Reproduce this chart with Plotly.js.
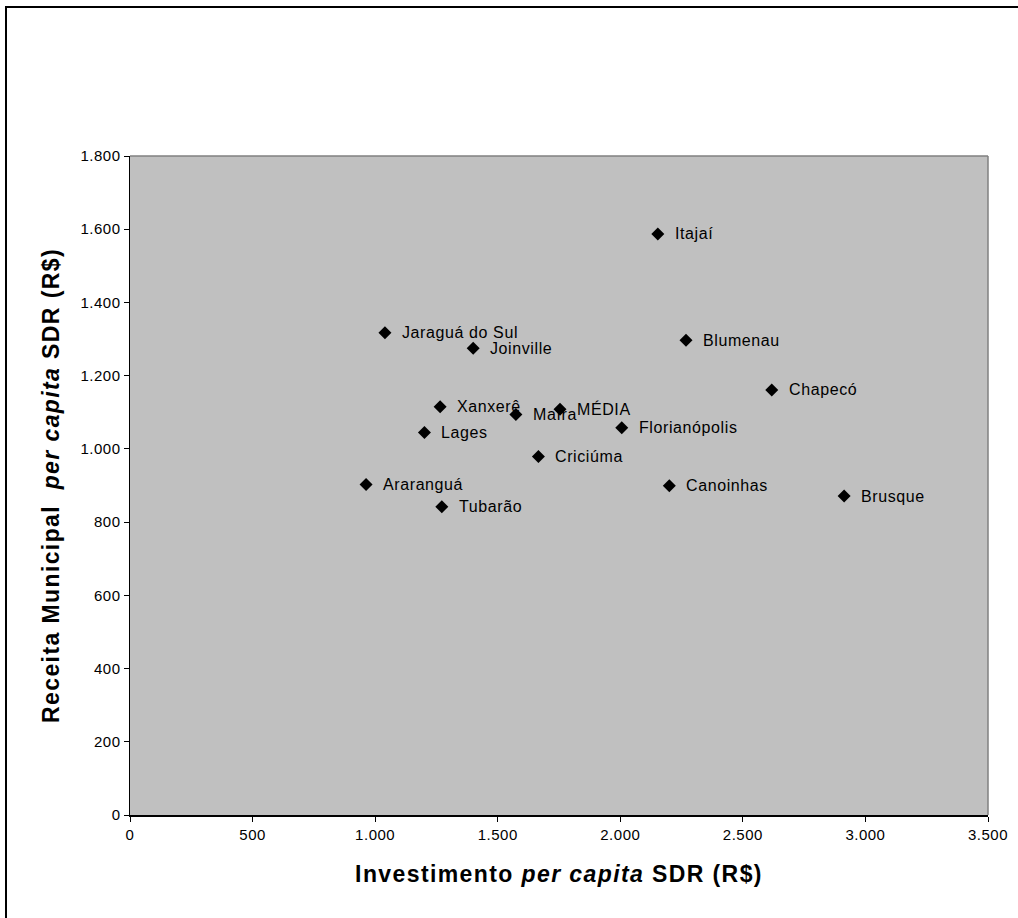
<!DOCTYPE html>
<html>
<head>
<meta charset="utf-8">
<script src="https://cdn.plot.ly/plotly-3.0.1.min.js"></script>
<style>
  html, body { margin: 0; padding: 0; background: #fff; }
  #wrap { position: relative; width: 1018px; height: 918px; overflow: hidden; }
  #frame { position: absolute; left: 5px; top: 6px; width: 1100px; height: 1000px;
           border-left: 2px solid #000; border-top: 2px solid #000; pointer-events: none; z-index: 5; }
  #chart { position: absolute; left: 0; top: 0; width: 1018px; height: 918px; }
  .annotation-text { letter-spacing: 0.6px; }
  .xtick text, .ytick text { letter-spacing: 0.5px; }
  .xtitle, .ytitle { letter-spacing: 1.4px; }
</style>
</head>
<body>
<div id="wrap">
  <div id="chart"></div>
  <div id="frame"></div>
</div>
<script>
// SDR names, investment per capita (x) and municipal revenue per capita (y), in R$
const regions = ["Itajaí", "Jaraguá do Sul", "Joinville", "Blumenau", "Chapecó",
                 "Xanxerê", "Mafra", "MÉDIA", "Lages", "Florianópolis",
                 "Criciúma", "Araranguá", "Tubarão", "Canoinhas", "Brusque"];
const investimento = [2153, 1040, 1400, 2268, 2618,
                      1265, 1574, 1754, 1201, 2006,
                      1666, 963, 1272, 2200, 2913];
const receita = [1587, 1317, 1275, 1297, 1161,
                 1115, 1094, 1108, 1045, 1058,
                 979, 903, 842, 899, 871];

const xTicks = [0, 500, 1000, 1500, 2000, 2500, 3000, 3500];
const yTicks = [0, 200, 400, 600, 800, 1000, 1200, 1400, 1600, 1800];

const FONT = "Liberation Sans, Arial, sans-serif";

const trace = {
  type: "scatter",
  mode: "markers",
  x: investimento,
  y: receita,
  marker: { symbol: "diamond", size: 10, color: "#000" },
  hoverinfo: "skip",
  cliponaxis: false
};

// point labels sit just right of each marker
const labels = regions.map((name, i) => ({
  x: investimento[i], y: receita[i], xref: "x", yref: "y",
  text: name, showarrow: false, xanchor: "left", yanchor: "middle",
  xshift: 15, font: { family: FONT, size: 16, color: "#000" }
}));

const layout = {
  width: 1018, height: 918,
  margin: { l: 130, r: 30, t: 156, b: 103 },
  paper_bgcolor: "rgba(0,0,0,0)",
  plot_bgcolor: "#c0c0c0",
  separators: ",.",
  showlegend: false,
  font: { family: FONT, color: "#000" },
  xaxis: {
    range: [0, 3500], tickvals: xTicks, separatethousands: true,
    showgrid: false, zeroline: false,
    showline: true, linecolor: "#000", linewidth: 1.5,
    ticks: "outside", ticklen: 5, tickcolor: "#000",
    tickfont: { family: FONT, size: 15, color: "#000" },
    title: { text: "Investimento <i>per capita</i> SDR (R$)", standoff: 24,
             font: { family: FONT, size: 23, color: "#000", weight: "bold" } },
    automargin: false
  },
  yaxis: {
    range: [0, 1800], tickvals: yTicks, separatethousands: true,
    showgrid: false, zeroline: false,
    showline: true, linecolor: "#000", linewidth: 1.5,
    ticks: "outside", ticklen: 5, tickcolor: "#000",
    tickfont: { family: FONT, size: 15, color: "#000" },
    title: { text: "Receita Municipal &nbsp;<i>per capita</i> SDR (R$)", standoff: 14,
             font: { family: FONT, size: 23, color: "#000", weight: "bold" } },
    automargin: false
  },
  shapes: [
    { type: "line", xref: "paper", yref: "paper", x0: 0, x1: 1, y0: 1, y1: 1,
      line: { color: "#808080", width: 1.5 } },
    { type: "line", xref: "paper", yref: "paper", x0: 1, x1: 1, y0: 0, y1: 1,
      line: { color: "#808080", width: 1.5 } }
  ],
  annotations: labels
};

Plotly.newPlot("chart", [trace], layout, { displayModeBar: false, staticPlot: true });
</script>
</body>
</html>
